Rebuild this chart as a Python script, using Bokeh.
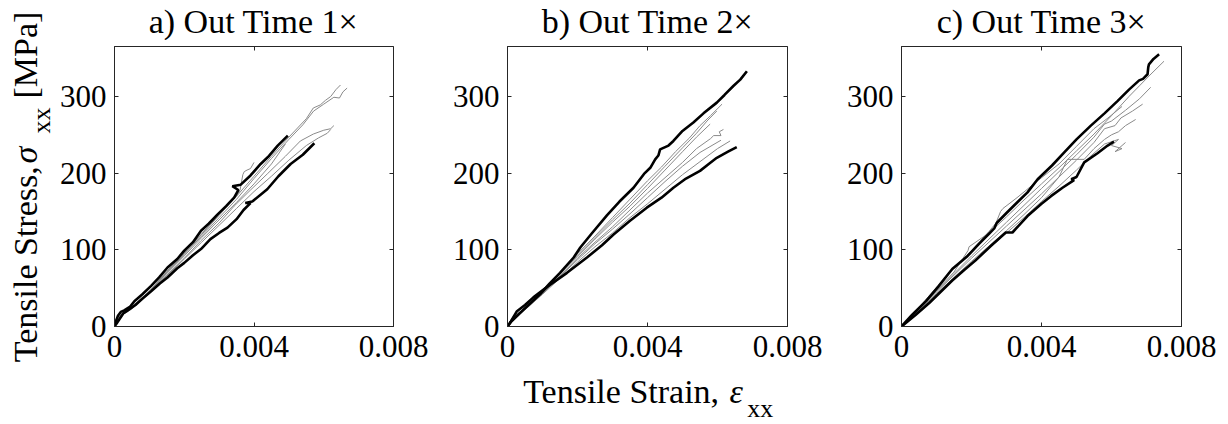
import math
from bokeh.plotting import figure
from bokeh.models import LinearAxis, FixedTicker, CustomJSTickFormatter, Range1d
from bokeh.layouts import row, column
from bokeh.core.properties import value
from bokeh.embed import file_html
from bokeh.resources import INLINE

FONT = "Liberation Serif"

# ---------------- data ----------------
titles = ["a) Out Time 1\u00d7", "b) Out Time 2\u00d7", "c) Out Time 3\u00d7"]
x_ticks = [0, 0.004, 0.008]
y_ticks = [0, 100, 200, 300]

# panel a
a_black_hi_strain = [0, 0.00004, 0.0001, 0.00018, 0.00028, 0.00045, 0.00057, 0.0008, 0.00105, 0.00128, 0.00152, 0.0018, 0.002, 0.00225, 0.00248, 0.0027, 0.00295, 0.0032, 0.00343, 0.00355, 0.00338, 0.00362, 0.0039, 0.00419, 0.0044, 0.00468, 0.00497]
a_black_hi_stress = [0, 7, 14, 19, 21, 26, 33, 42, 53, 64, 77, 88, 99, 110, 125, 134, 146, 157, 168, 178, 183, 185, 197, 212, 221, 236, 249]
a_black_lo_strain = [0, 0.00006, 0.00015, 0.00025, 0.00035, 0.0006, 0.00082, 0.00105, 0.0013, 0.00152, 0.0018, 0.002, 0.00225, 0.00248, 0.00275, 0.003, 0.00324, 0.0035, 0.0037, 0.0039, 0.00375, 0.00395, 0.00438, 0.0047, 0.00505, 0.0054, 0.00573]
a_black_lo_stress = [0, 4, 10, 17, 20, 28, 37, 46, 56, 64, 76, 83, 93, 101, 114, 122, 129, 140, 152, 161, 161, 163, 179, 196, 212, 224, 239]
a_gray1_strain = [0, 0.0001, 0.00025, 0.0005, 0.001, 0.0015, 0.002, 0.0025, 0.003, 0.0035, 0.004, 0.0045, 0.005, 0.0054, 0.00571, 0.006, 0.00629, 0.00645, 0.00655, 0.00667]
a_gray1_stress = [0, 9, 18, 25, 45, 70, 94, 118, 142, 166, 193, 219, 244, 263, 281, 290, 299, 298, 306, 311]
a_gray2_strain = [0, 0.0001, 0.00025, 0.0005, 0.001, 0.0015, 0.002, 0.0025, 0.003, 0.0035, 0.004, 0.0045, 0.005, 0.0055, 0.0057, 0.0059, 0.00605, 0.0062, 0.00635, 0.00648]
a_gray2_stress = [0, 10, 19, 26, 46, 72, 96, 121, 146, 170, 196, 222, 247, 271, 285, 289, 295, 300, 309, 315]
a_gray3_strain = [0, 0.0001, 0.00025, 0.0005, 0.001, 0.0015, 0.002, 0.00248, 0.003, 0.00343, 0.0039, 0.00438, 0.0049, 0.00533, 0.0057, 0.006, 0.0062, 0.00629]
a_gray3_stress = [0, 8, 17, 24, 44, 67, 89, 112, 135, 157, 178, 199, 222, 242, 251, 256, 258, 262]
a_gray4_strain = [0, 0.0001, 0.00025, 0.0005, 0.001, 0.0015, 0.002, 0.0025, 0.003, 0.0035, 0.004, 0.0045, 0.005, 0.0055, 0.00585, 0.0061, 0.0062]
a_gray4_stress = [0, 8, 16, 23, 43, 66, 88, 110, 132, 154, 176, 196, 217, 236, 246, 252, 257]
a_gray5_strain = [0, 0.0001, 0.00025, 0.0005, 0.001, 0.0015, 0.002, 0.0025, 0.003, 0.0035, 0.0036, 0.00368, 0.00372, 0.0038, 0.0039, 0.004]
a_gray5_stress = [0, 9, 18, 26, 46, 71, 95, 120, 145, 170, 178, 198, 202, 204, 206, 214]
a_gray6_strain = [0, 0.0001, 0.00025, 0.0005, 0.001, 0.0015, 0.002, 0.0025, 0.003, 0.0035, 0.004, 0.0045, 0.0049]
a_gray6_stress = [0, 9, 17, 25, 45, 69, 92, 116, 139, 162, 186, 212, 238]

# panel b
b_black_hi_strain = [0, 0.0001, 0.0003, 0.0006, 0.00093, 0.0012, 0.0015, 0.00189, 0.00208, 0.0024, 0.00284, 0.0032, 0.0036, 0.0039, 0.00408, 0.00422, 0.00431, 0.00436, 0.0046, 0.00474, 0.005, 0.00531, 0.0056, 0.00598, 0.0062, 0.00646, 0.00665, 0.00684]
b_black_hi_stress = [0, 6, 15, 28, 42, 56, 70, 90, 103, 121, 145, 163, 181, 199, 207, 218, 223, 231, 236, 242, 255, 266, 278, 292, 302, 314, 322, 333]
b_black_lo_strain = [0, 0.0001, 0.00027, 0.0005, 0.00074, 0.0012, 0.0017, 0.00227, 0.0027, 0.00303, 0.0035, 0.00398, 0.0044, 0.00474, 0.0051, 0.0055, 0.00575, 0.00598, 0.0063, 0.00655]
b_black_lo_stress = [0, 7, 20, 28, 38, 54, 70, 90, 106, 120, 138, 155, 168, 181, 193, 203, 212, 220, 228, 234]
b_gray1_strain = [0, 0.0001, 0.0003, 0.0006, 0.001, 0.0015, 0.002, 0.0025, 0.003, 0.0035, 0.004, 0.0044, 0.0048, 0.0052, 0.0055, 0.0058, 0.00613]
b_gray1_stress = [0, 8, 16, 27, 45, 70, 95, 118, 142, 166, 190, 208, 228, 246, 262, 275, 290]
b_gray2_strain = [0, 0.0001, 0.0003, 0.0006, 0.001, 0.0015, 0.002, 0.0025, 0.003, 0.0035, 0.004, 0.0045, 0.005, 0.0054, 0.0057, 0.00598]
b_gray2_stress = [0, 9, 17, 27, 44, 69, 93, 116, 139, 161, 185, 209, 233, 252, 268, 281]
b_gray3_strain = [0, 0.0001, 0.0003, 0.0006, 0.001, 0.0015, 0.002, 0.0025, 0.003, 0.0035, 0.004, 0.0045, 0.005, 0.0054, 0.0058, 0.00589, 0.0061, 0.00605, 0.00617]
b_gray3_stress = [0, 7, 15, 26, 43, 66, 89, 110, 130, 152, 174, 194, 214, 232, 245, 249, 249, 254, 257]
b_gray4_strain = [0, 0.0001, 0.0003, 0.0006, 0.001, 0.0015, 0.002, 0.0025, 0.003, 0.0035, 0.004, 0.0045, 0.005, 0.0055, 0.006, 0.00636]
b_gray4_stress = [0, 8, 16, 26, 42, 63, 84, 104, 122, 142, 160, 179, 198, 215, 232, 242]
b_gray5_strain = [0, 0.0001, 0.0003, 0.0006, 0.001, 0.0015, 0.002, 0.0025, 0.003, 0.0035, 0.004, 0.0045, 0.005, 0.0055, 0.0061]
b_gray5_stress = [0, 8, 17, 27, 43, 65, 87, 108, 127, 147, 168, 189, 209, 227, 243]
b_gray6_strain = [0, 0.0001, 0.0003, 0.0006, 0.001, 0.0015, 0.002, 0.0025, 0.003, 0.0035, 0.004, 0.0045, 0.005, 0.0054, 0.00579]
b_gray6_stress = [0, 9, 17, 27, 44, 68, 91, 114, 136, 157, 180, 204, 228, 247, 264]

# panel c
c_black_hi_strain = [0, 0.0003, 0.0007, 0.00105, 0.00145, 0.00189, 0.0022, 0.0025, 0.00265, 0.00272, 0.003, 0.00331, 0.0036, 0.00389, 0.0043, 0.00465, 0.005, 0.00541, 0.0058, 0.00617, 0.0065, 0.00679, 0.0069, 0.00703, 0.00705, 0.00707, 0.0072, 0.00736]
c_black_hi_stress = [0, 15, 33, 52, 75, 92, 107, 121, 128, 135, 148, 162, 175, 192, 210, 227, 244, 262, 278, 294, 309, 321, 323, 329, 338, 342, 349, 355]
c_black_lo_strain = [0, 0.0004, 0.0008, 0.00145, 0.0018, 0.00211, 0.00255, 0.00298, 0.00317, 0.0036, 0.004, 0.00427, 0.0046, 0.00493, 0.00485, 0.005, 0.00522, 0.0056, 0.00589, 0.00607]
c_black_lo_stress = [0, 15, 31, 60, 74, 86, 105, 122.6, 122.6, 144, 160, 170, 181, 191, 192, 195, 214, 226, 236, 241]
c_gray1_strain = [0, 0.0005, 0.001, 0.0015, 0.0019, 0.00193, 0.0025, 0.003, 0.0035, 0.004, 0.0045, 0.005, 0.0055, 0.006, 0.0065, 0.0068, 0.0071, 0.0073, 0.0075]
c_gray1_stress = [0, 23, 47, 71, 99, 104, 122, 143, 165, 186, 207, 229, 251, 275, 300, 314, 328, 337, 346]
c_gray2_strain = [0, 0.0005, 0.001, 0.0015, 0.002, 0.0025, 0.003, 0.0035, 0.004, 0.0045, 0.005, 0.0055, 0.0058, 0.006, 0.0064, 0.0068, 0.00712]
c_gray2_stress = [0, 22, 46, 69, 92, 114, 136, 158, 180, 202, 224, 247, 264, 268, 282, 297, 312]
c_gray3_strain = [0, 0.0005, 0.001, 0.0015, 0.002, 0.0025, 0.003, 0.0035, 0.004, 0.0045, 0.005, 0.0055, 0.0058, 0.0061, 0.00627, 0.0066, 0.00689]
c_gray3_stress = [0, 22, 45, 67, 89, 110, 131, 152, 173, 195, 217, 240, 258, 262, 272, 281, 290]
c_gray4_strain = [0, 0.0005, 0.001, 0.0015, 0.002, 0.0025, 0.003, 0.0035, 0.004, 0.0045, 0.00474, 0.00522, 0.0055, 0.0058, 0.006, 0.0062, 0.0064, 0.00669]
c_gray4_stress = [0, 21, 43, 64, 85, 105, 125, 146, 168, 195, 218, 218, 232, 244, 250, 254, 262, 270]
c_gray5_strain = [0, 0.0005, 0.001, 0.0015, 0.002, 0.0025, 0.003, 0.0035, 0.004, 0.0045, 0.005, 0.0054, 0.0058, 0.0062, 0.006, 0.0063, 0.0061, 0.0064]
c_gray5_stress = [0, 21, 42, 62, 82, 102, 122, 142, 163, 183, 204, 222, 238, 244, 236, 232, 228, 240]
c_gray6_strain = [0, 0.0005, 0.001, 0.0015, 0.002, 0.0025, 0.0027, 0.00283, 0.0029, 0.0033, 0.0037, 0.004, 0.0045, 0.005, 0.0055, 0.0059, 0.0063]
c_gray6_stress = [0, 25, 51, 76, 99, 124, 135, 150, 154, 168, 183, 194, 212, 235, 258, 272, 287]

panels = [
    dict(black=[(a_black_hi_strain, a_black_hi_stress), (a_black_lo_strain, a_black_lo_stress)],
         gray=[(a_gray1_strain, a_gray1_stress), (a_gray2_strain, a_gray2_stress), (a_gray3_strain, a_gray3_stress),
               (a_gray4_strain, a_gray4_stress), (a_gray5_strain, a_gray5_stress), (a_gray6_strain, a_gray6_stress)]),
    dict(black=[(b_black_hi_strain, b_black_hi_stress), (b_black_lo_strain, b_black_lo_stress)],
         gray=[(b_gray1_strain, b_gray1_stress), (b_gray2_strain, b_gray2_stress), (b_gray3_strain, b_gray3_stress),
               (b_gray4_strain, b_gray4_stress), (b_gray5_strain, b_gray5_stress), (b_gray6_strain, b_gray6_stress)]),
    dict(black=[(c_black_hi_strain, c_black_hi_stress), (c_black_lo_strain, c_black_lo_stress)],
         gray=[(c_gray1_strain, c_gray1_stress), (c_gray2_strain, c_gray2_stress), (c_gray3_strain, c_gray3_stress),
               (c_gray4_strain, c_gray4_stress), (c_gray5_strain, c_gray5_stress), (c_gray6_strain, c_gray6_stress)]),
]

# ---------------- layout constants (pixels) ----------------
W, H = 1228, 424
FRAME = 280
YLAB_W = 56          # strip holding the rotated y label
TITLE_H = 40         # strip holding the panel titles
XLAB_H = 52          # strip holding the x label
PANEL_H = H - TITLE_H - XLAB_H
TOP, BOTTOM = 6, PANEL_H - 6 - FRAME
borders = [(57, 37), (77, 37), (77, W - YLAB_W - (57 + FRAME + 37) - (77 + FRAME + 37) - 77 - FRAME)]
AX = "#262626"

frame_left_abs = []
acc = YLAB_W
for lb, rb in borders:
    frame_left_abs.append(acc + lb)
    acc += lb + FRAME + rb

# text is anchored at the middle of its (ascent + descent) box;
# this is the distance from that middle to the alphabetic baseline
MID_TO_BASE = 0.3375


def style_axis(ax, ticks, fmt, standoff, size="31px"):
    ax.ticker = FixedTicker(ticks=ticks)
    ax.formatter = fmt
    ax.major_tick_in = 4
    ax.major_tick_out = 0
    ax.minor_tick_line_color = None
    ax.axis_line_color = AX
    ax.major_tick_line_color = AX
    ax.major_label_text_font = FONT
    ax.major_label_text_font_size = size
    ax.major_label_text_color = "black"
    ax.major_label_standoff = standoff


def text_strip(w, h):
    p = figure(width=w, height=h, x_range=Range1d(0, w), y_range=Range1d(0, h),
               output_backend="svg", toolbar_location=None,
               x_axis_type=None, y_axis_type=None, min_border=0)
    p.grid.visible = False
    p.outline_line_color = None
    return p


def put(p, x, y, txt, size=34, angle=0.0, style="normal", align="left"):
    """(x, y): where the alphabetic baseline starts, in strip pixels (y up)."""
    d = MID_TO_BASE * size
    if angle:
        x -= d          # rotated 90deg: glyph tops point left
    else:
        y += d
    p.text(x=[x], y=[y], text=[txt], angle=angle, text_font=value(FONT),
           text_font_size=value(f"{size}px"), text_font_style=value(style),
           text_align=value(align), text_baseline=value("middle"), text_color="black")


figs = []
for i, pan in enumerate(panels):
    left, right = borders[i]
    p = figure(width=left + FRAME + right, height=PANEL_H,
               x_range=Range1d(0, 0.008), y_range=Range1d(0, 365.2),
               output_backend="svg", toolbar_location=None,
               min_border_left=left, min_border_right=right,
               min_border_top=TOP, min_border_bottom=BOTTOM)
    p.grid.visible = False
    p.outline_line_color = AX
    p.outline_line_width = 1

    style_axis(p.xaxis[0], x_ticks, CustomJSTickFormatter(code="return tick == 0 ? '0' : tick.toFixed(3);"), 9)
    style_axis(p.yaxis[0], y_ticks, CustomJSTickFormatter(code="return tick.toFixed(0);"), 8)

    ra = LinearAxis()
    style_axis(ra, y_ticks, CustomJSTickFormatter(code="return '';"), 0, "1px")
    ra.axis_line_color = None
    p.add_layout(ra, "right")
    ta = LinearAxis()
    style_axis(ta, x_ticks, CustomJSTickFormatter(code="return '';"), 0, "1px")
    ta.axis_line_color = None
    p.add_layout(ta, "above")

    for xs, ys in pan["gray"]:
        p.line(xs, ys, line_color="#8a8a8a", line_width=1)
    for xs, ys in pan["black"]:
        p.line(xs, ys, line_color="black", line_width=2.6)
    figs.append(p)

# titles strip (above the three panels, right of the y-label strip)
tstrip = text_strip(W - YLAB_W, TITLE_H)
for i, t in enumerate(titles):
    cx = frame_left_abs[i] + FRAME / 2 - YLAB_W
    put(tstrip, cx, TITLE_H - 32.5, t, align="center")

# rotated y label strip (left of panel a)
yh = TITLE_H + PANEL_H
ystrip = text_strip(YLAB_W, yh)
put(ystrip, 36, yh - 361.7, "Tensile Stress,", angle=math.pi / 2)
put(ystrip, 36, yh - 163, "\u03c3", angle=math.pi / 2, style="italic")
put(ystrip, 50, yh - 133, "xx", size=26, angle=math.pi / 2)
put(ystrip, 36, yh - 98, "[MPa]", angle=math.pi / 2)

# x label strip (below everything, centred under panel b)
xstrip = text_strip(W, XLAB_H)
bx = frame_left_abs[1]
put(xstrip, bx + 15.7, H - 402, "Tensile Strain,")
put(xstrip, bx + 222, H - 402, "\u03b5", style="italic")
put(xstrip, bx + 239.7, H - 417, "xx", size=26)

layout = column(
    row(ystrip, column(tstrip, row(*figs, spacing=0), spacing=0), spacing=0),
    xstrip,
    spacing=0,
)
open("out.html", "w").write(file_html(layout, INLINE))
